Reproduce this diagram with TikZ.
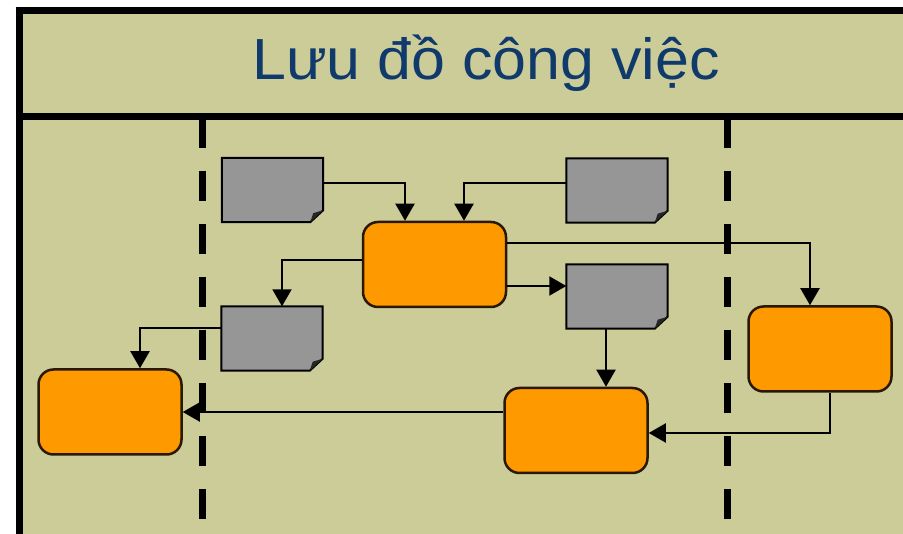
\documentclass[tikz,border=0pt]{standalone}
\usepackage{fontspec}
\setmainfont{Liberation Sans}
\usetikzlibrary{arrows.meta,calc}

\definecolor{khaki}{RGB}{204,204,153}
\definecolor{taskorange}{RGB}{255,153,0}
\definecolor{docgray}{RGB}{150,150,150}
\definecolor{titleblue}{RGB}{16,58,108}
\definecolor{edgebrown}{RGB}{40,24,4}

\tikzset{
  task/.style={draw=edgebrown, line width=2.5pt, fill=taskorange,
    rounded corners=15pt, minimum width=143pt, minimum height=85pt,
    inner sep=0pt},
  docbox/.style={minimum width=101pt, minimum height=64pt, inner sep=0pt},
  flow/.style={line width=2pt, -{Triangle[width=19pt,length=17pt]}},
  lane/.style={line width=7pt, dash pattern=on 30pt off 23pt},
  frame/.style={line width=7pt},
}

% document sheet with a folded lower right corner
\newcommand\sheet[1]{%
  \draw[line width=2pt, fill=docgray]
    (#1.north west) -- (#1.north east) -- ($(#1.south east)+(0,-12)$)
    -- ($(#1.south east)+(-13,0)$) -- (#1.south west) -- cycle;
  \fill[black!85]
    ($(#1.south east)+(0,-12)$) -- ($(#1.south east)+(-13,0)$)
    -- ($(#1.south east)+(-10,-9)$) -- cycle;
}

\begin{document}
\begin{tikzpicture}[x=1pt, y=-1pt]
  \useasboundingbox (0,0) rectangle (903,534);
  \fill[white] (0,0) rectangle (903,534);

  % panel and title band
  \fill[khaki] (19,11) rectangle (903,534);
  \draw[frame] (15.5,11) -- (903,11);
  \draw[frame] (19,7.5) -- (19,534);
  \draw[frame] (19,116.5) -- (903,116.5);
  \node[anchor=base, text=titleblue, xscale=1.05,
        font=\fontsize{58}{60}\selectfont]
    (title) at (486,80) {Lưu đồ công việc};

  % lane separators
  \draw[lane] (202,118) -- (202,521);
  \draw[lane] (727,118) -- (727,521);

  % documents
  \node[docbox] (A) at (272.5,190) {};
  \node[docbox] (B) at (617,190.5) {};
  \node[docbox] (C) at (617,296.5) {};
  \node[docbox] (D) at (272,338.5) {};
  \sheet{A}\sheet{B}\sheet{C}\sheet{D}

  % tasks
  \node[task] (P) at (434.5,264.5) {};
  \node[task] (Q) at (820,349) {};
  \node[task] (R) at (576,430.5) {};
  \node[task] (S) at (110,412) {};

  % connectors
  \draw[flow] ([yshift=7pt]A.east) -| ([xshift=-29.5pt]P.north);
  \draw[flow] ([yshift=7pt]B.west) -| ([xshift=29.5pt]P.north);
  \draw[flow] ([yshift=4.5pt]P.west) -| ([xshift=10pt]D.north);
  \draw[flow] ([yshift=21.5pt]P.east) -| ([xshift=-10pt]Q.north);
  \draw[flow] ([yshift=-21.5pt]P.east) -- ([yshift=-21.5pt]P.east -| C.west);
  \draw[flow] ([xshift=-11pt]C.south) -- ([xshift=-11pt]C.south |- R.north);
  \draw[flow] ([yshift=10.5pt]D.west) -| ([xshift=30pt]S.north);
  \draw[flow] ([yshift=18.5pt]R.west) -- ([yshift=18.5pt]R.west -| S.east);
  \draw[flow] ([xshift=10pt]Q.south) |- ([yshift=-2.5pt]R.east);
\end{tikzpicture}
\end{document}
